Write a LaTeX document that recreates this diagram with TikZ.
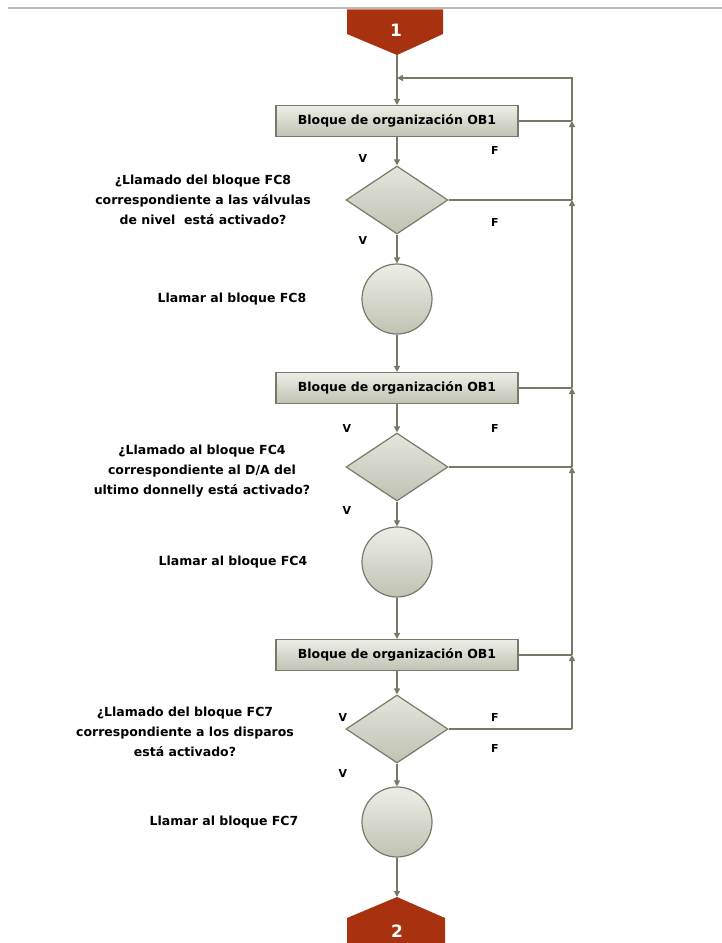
\documentclass[tikz,border=0pt]{standalone}
\usepackage{fontspec}
\setmainfont{DejaVu Sans}
\usetikzlibrary{shapes.geometric,arrows.meta}

\definecolor{edge}{HTML}{767A66}
\definecolor{fillTop}{HTML}{EEEEE8}
\definecolor{fillBot}{HTML}{C0C2B2}
\definecolor{offpage}{HTML}{A8320F}
\definecolor{offpageTop}{HTML}{E27A5C}

\tikzset{
  flow/.style={draw=edge, line width=1.4pt, -{Triangle[length=6pt,width=6pt]}},
  plain/.style={draw=edge, line width=1.4pt},
  obbox/.style={rectangle, draw=edge, line width=1.2pt, top color=fillTop, bottom color=fillBot,
    minimum width=242pt, minimum height=31pt, inner sep=0pt,
    font=\fontsize{12.5}{14}\selectfont\bfseries},
  decision/.style={diamond, draw=edge, line width=1.2pt, top color=fillTop!80!fillBot, bottom color=fillBot,
    minimum width=102pt, minimum height=68pt, inner sep=0pt},
  callnode/.style={circle, draw=edge, line width=1.2pt, top color=fillTop, bottom color=fillBot,
    minimum size=70pt, inner sep=0pt},
  question/.style={align=center, font=\fontsize{12.5}{20}\selectfont\bfseries},
  calltext/.style={font=\fontsize{12.5}{14}\selectfont\bfseries},
  branch/.style={font=\fontsize{11}{12}\selectfont\bfseries},
  pagenum/.style={text=white, font=\fontsize{17}{18}\selectfont\bfseries}
}

\begin{document}
\begin{tikzpicture}[x=1pt,y=-1pt]
\useasboundingbox (0,0) rectangle (722,943);
\fill[white] (0,0) rectangle (722,943);

% header rule
\draw[gray!55, line width=1.3pt] (8,8) -- (722,8);

% off-page connector 1
\fill[offpage] (347,9) -- (443,9) -- (443,34) -- (397,55) -- (347,34) -- cycle;
\draw[offpageTop, line width=1pt] (347,9.5) -- (443,9.5);
\node[pagenum] (p1) at (396,30) {1};
\coordinate (p1tip) at (397,55);

% off-page connector 2
\fill[offpage] (397,897) -- (445,918) -- (445,943) -- (347,943) -- (347,918) -- cycle;
\node[pagenum] (p2) at (397,931) {2};
\coordinate (p2tip) at (397,897);

% main column
\node[obbox]    (b1) at (397,121) {Bloque de organización OB1};
\node[decision] (d1) at (397,200) {};
\node[callnode] (k1) at (397,299) {};
\node[obbox]    (b2) at (397,388) {Bloque de organización OB1};
\node[decision] (d2) at (397,467) {};
\node[callnode] (k2) at (397,562) {};
\node[obbox]    (b3) at (397,655) {Bloque de organización OB1};
\node[decision] (d3) at (397,729) {};
\node[callnode] (k3) at (397,822) {};

% side texts
\node[question] (q1) at (203,200) {¿Llamado del bloque FC8\\correspondiente a las válvulas\\de nivel\ \ está activado?};
\node[calltext] (t1) at (232,299) {Llamar al bloque FC8};
\node[question] (q2) at (202,471) {¿Llamado al bloque FC4\\correspondiente al D/A del\\ultimo donnelly está activado?};
\node[calltext] (t2) at (233,562) {Llamar al bloque FC4};
\node[question] (q3) at (185,732) {¿Llamado del bloque FC7\\correspondiente a los disparos\\está activado?};
\node[calltext] (t3) at (224,822) {Llamar al bloque FC7};

% branch labels
\node[branch] (v1) at (363,158) {V};
\node[branch] (f1) at (495,150) {F};
\node[branch] (f2) at (495,222) {F};
\node[branch] (v2) at (363,240) {V};
\node[branch] (v3) at (347,428) {V};
\node[branch] (f3) at (495,428) {F};
\node[branch] (v4) at (347,510) {V};
\node[branch] (v5) at (343,717) {V};
\node[branch] (f4) at (495,717) {F};
\node[branch] (f5) at (495,748) {F};
\node[branch] (v6) at (343,773) {V};

% main flow
\draw[flow] (p1tip) -- (b1.north);
\draw[flow] (b1) -- (d1);
\draw[flow] (d1) -- (k1);
\draw[flow] (k1) -- (b2);
\draw[flow] (b2) -- (d2);
\draw[flow] (d2) -- (k2);
\draw[flow] (k2) -- (b3);
\draw[flow] (b3) -- (d3);
\draw[flow] (d3) -- (k3);
\draw[flow] (k3) -- (p2tip);

% return loop on the right
\coordinate (rx) at (572,0);
\coordinate (top) at (572,78);
\coordinate (topin) at (397,78);
\coordinate (j1) at (b1.east -| rx);
\coordinate (j2) at (d1.east -| rx);
\coordinate (j3) at (b2.east -| rx);
\coordinate (j4) at (d2.east -| rx);
\coordinate (j5) at (b3.east -| rx);
\coordinate (j6) at (d3.east -| rx);
\draw[plain] (b1.east) -- (j1);
\draw[plain] (d1.east) -- (j2);
\draw[plain] (b2.east) -- (j3);
\draw[plain] (d2.east) -- (j4);
\draw[plain] (b3.east) -- (j5);
\draw[plain] (d3.east) -- (j6);
\draw[flow] (j6) -- (j5);
\draw[flow] (j5) -- (j4);
\draw[flow] (j4) -- (j3);
\draw[flow] (j3) -- (j2);
\draw[flow] (j2) -- (j1);
\draw[flow] (j1) -- (top) -- (topin);
\end{tikzpicture}
\end{document}
